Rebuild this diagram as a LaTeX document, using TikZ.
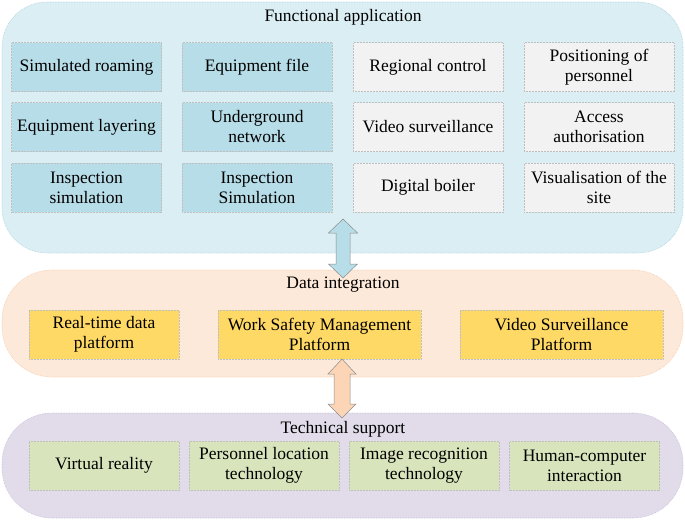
\documentclass[tikz,border=0pt]{standalone}
\usepackage{fontspec}
\setmainfont{Liberation Serif}
\newfontfamily\tnrfont{Liberation Serif}
\definecolor{topbg}{HTML}{DAEEF3}
\definecolor{topbd}{HTML}{A9CFDC}
\definecolor{midbg}{HTML}{FDE9D9}
\definecolor{midbd}{HTML}{F5C6A5}
\definecolor{botbg}{HTML}{E1DBEA}
\definecolor{botbd}{HTML}{C4BCD6}
\definecolor{bluebox}{HTML}{B7DDE8}
\definecolor{graybox}{HTML}{F2F2F2}
\definecolor{goldbox}{HTML}{FFD966}
\definecolor{greenbox}{HTML}{D8E4BC}
\definecolor{bluearr}{HTML}{B7DEE8}
\definecolor{orangearr}{HTML}{FBD5B5}
\begin{document}
\begin{tikzpicture}[x=1pt,y=-1pt,
  every node/.style={font=\tnrfont\fontsize{17.5}{20}\selectfont, text=black},
  layer/.style={rectangle, densely dotted, line width=0.6pt, inner sep=0pt},
  item/.style={rectangle, draw=black!25, densely dotted, line width=0.5pt, align=center, inner sep=0pt, minimum height=49pt},
  narrow/.style={item, minimum width=150pt},
  wide/.style={item, minimum width=203pt},
  arrowshape/.style={draw=black!45, line width=0.5pt, line join=miter}
]
\useasboundingbox (0,0) rectangle (685,520);

% containers
\node[layer, fill=topbg, draw=topbd, rounded corners=45pt, minimum width=681pt, minimum height=251pt] (top) at (342.5,127.5) {};
\node[layer, fill=midbg, draw=midbd, rounded corners=50pt, minimum width=681pt, minimum height=107pt] (mid) at (342.5,323.5) {};
\node[layer, fill=botbg, draw=botbd, rounded corners=50pt, minimum width=681pt, minimum height=105pt] (bot) at (342.5,465.5) {};

\node (toptitle) at (343,17) {Functional application};
\node (midtitle) at (343,285) {Data integration};
\node (bottitle) at (343,429) {Technical support};

% functional application boxes
\node[narrow, fill=bluebox] (f11) at (86.5,67) {Simulated roaming};
\node[narrow, fill=bluebox] (f12) at (257,67) {Equipment file};
\node[narrow, fill=graybox] (f13) at (428,67) {Regional control};
\node[narrow, fill=graybox] (f14) at (599,67) {Positioning of\\personnel};
\node[narrow, fill=bluebox] (f21) at (86.5,127) {Equipment layering};
\node[narrow, fill=bluebox] (f22) at (257,127) {Underground\\network};
\node[narrow, fill=graybox] (f23) at (428,127) {Video surveillance};
\node[narrow, fill=graybox] (f24) at (599,127) {Access\\authorisation};
\node[narrow, fill=bluebox] (f31) at (86.5,187.5) {Inspection\\simulation};
\node[narrow, fill=bluebox] (f32) at (257,187.5) {Inspection\\Simulation};
\node[narrow, fill=graybox] (f33) at (428,187.5) {Digital boiler};
\node[narrow, fill=graybox] (f34) at (599,187.5) {Visualisation of the\\site};

% data integration boxes
\node[narrow, fill=goldbox] (d1) at (104,334.5) {Real-time data\\platform};
\node[wide, fill=goldbox] (d2) at (319.5,334.5) {Work Safety Management\\Platform};
\node[wide, fill=goldbox] (d3) at (561.5,334.5) {Video Surveillance\\Platform};

% technical support boxes
\node[narrow, fill=greenbox] (t1) at (104,465.5) {Virtual reality};
\node[narrow, fill=greenbox] (t2) at (264,465.5) {Personnel location\\technology};
\node[narrow, fill=greenbox] (t3) at (424,465.5) {Image recognition\\technology};
\node[narrow, fill=greenbox] (t4) at (584.5,465.5) {Human-computer\\interaction};

% double arrows
\coordinate (a1) at (343,219);
\coordinate (a2) at (342,359);
\draw[arrowshape, fill=bluearr]
  (a1) -- ++(14.5,14) -- ++(-7.5,0) -- ++(0,31) -- ++(7.5,0) -- ++(-14.5,14)
  -- ++(-14.5,-14) -- ++(7.5,0) -- ++(0,-31) -- ++(-7.5,0) -- cycle;
\draw[arrowshape, fill=orangearr]
  (a2) -- ++(14,15) -- ++(-6,0) -- ++(0,30) -- ++(6,0) -- ++(-14,14)
  -- ++(-14,-14) -- ++(6,0) -- ++(0,-30) -- ++(-6,0) -- cycle;
\end{tikzpicture}
\end{document}
